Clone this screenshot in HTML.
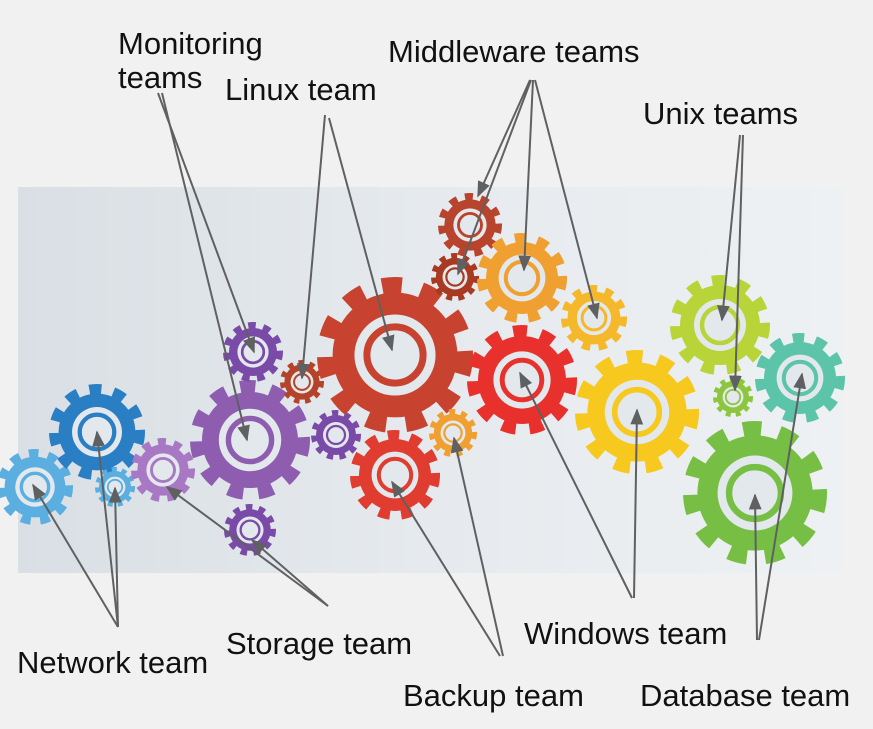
<!DOCTYPE html>
<html><head><meta charset="utf-8"><style>
html,body{margin:0;padding:0;background:#f1f1f1;}
svg{display:block;}
text{font-family:"Liberation Sans",sans-serif;font-size:31px;fill:#111;}
</style></head><body>
<svg width="873" height="729" viewBox="0 0 873 729" xmlns="http://www.w3.org/2000/svg">
<defs>
<linearGradient id="bg" x1="0" x2="1" y1="0" y2="0">
<stop offset="0" stop-color="#d9dfe4"/><stop offset="0.5" stop-color="#e6eaee"/><stop offset="1" stop-color="#eef1f3"/></linearGradient>
<marker id="a" viewBox="0 0 10 10" refX="9" refY="5" markerWidth="16" markerHeight="16" orient="auto" markerUnits="userSpaceOnUse">
<path d="M0,1 L10,5 L0,9 z" fill="#5f6062"/></marker>
<g id="g">
<circle cx="0" cy="0" r="0.8" fill="currentColor"/>
<circle cx="0" cy="0" r="0.89" fill="none" stroke="currentColor" stroke-width="0.22" pathLength="20" stroke-dasharray="1 1"/>
<circle cx="0" cy="0" r="0.52" fill="#e3e8ec"/>
<circle cx="0" cy="0" r="0.36" fill="none" stroke="currentColor" stroke-width="0.09"/>
</g>
</defs>
<rect x="0" y="0" width="873" height="729" fill="#f1f1f1"/>
<rect x="18" y="187" width="824" height="386" fill="url(#bg)"/>
<use href="#g" transform="translate(35,487) scale(38)" color="#5aaee0"/>
<use href="#g" transform="translate(97,432) scale(48)" color="#2a7fc4"/>
<use href="#g" transform="translate(115,487) scale(20)" color="#5aaee0"/>
<use href="#g" transform="translate(163,470) scale(32)" color="#a878c4"/>
<use href="#g" transform="translate(250,440) scale(60)" color="#8e5db0"/>
<use href="#g" transform="translate(253,352) scale(30)" color="#7a4aa8"/>
<use href="#g" transform="translate(250,530) scale(26)" color="#7a4aa8"/>
<use href="#g" transform="translate(336,435) scale(25)" color="#7a4aa8"/>
<use href="#g" transform="translate(302,382) scale(22)" color="#b5432a"/>
<use href="#g" transform="translate(395,355) scale(78)" color="#c8432f"/>
<use href="#g" transform="translate(395,475) scale(45)" color="#e03c30"/>
<use href="#g" transform="translate(453,433) scale(24)" color="#f0a030"/>
<use href="#g" transform="translate(470,225) scale(32)" color="#b8442d"/>
<use href="#g" transform="translate(455,277) scale(24)" color="#a83a22"/>
<use href="#g" transform="translate(522,278) scale(45)" color="#f0a030"/>
<use href="#g" transform="translate(594,318) scale(33)" color="#f5b82a"/>
<use href="#g" transform="translate(522,380) scale(55)" color="#e8312c"/>
<use href="#g" transform="translate(637,412) scale(62)" color="#f7c81e"/>
<use href="#g" transform="translate(720,325) scale(50)" color="#b8d438"/>
<use href="#g" transform="translate(733,397) scale(20)" color="#8cc63f"/>
<use href="#g" transform="translate(800,378) scale(45)" color="#5cc4a8"/>
<use href="#g" transform="translate(755,493) scale(72)" color="#76bf44"/>
<g stroke="#5f6062" stroke-width="2" fill="none" marker-end="url(#a)">
<line x1="158" y1="93" x2="254" y2="352"/>
<line x1="162" y1="93" x2="247" y2="440"/>
<line x1="325" y1="115" x2="302" y2="378"/>
<line x1="329" y1="118" x2="392" y2="350"/>
<line x1="530" y1="80" x2="478" y2="196"/>
<line x1="531" y1="80" x2="458" y2="274"/>
<line x1="533" y1="80" x2="524" y2="270"/>
<line x1="535" y1="80" x2="597" y2="318"/>
<line x1="740" y1="135" x2="722" y2="320"/>
<line x1="743" y1="135" x2="735" y2="390"/>
<line x1="632" y1="598" x2="520" y2="373"/>
<line x1="634" y1="598" x2="637" y2="410"/>
<line x1="757" y1="640" x2="755" y2="495"/>
<line x1="759" y1="640" x2="802" y2="374"/>
<line x1="500" y1="656" x2="392" y2="482"/>
<line x1="503" y1="656" x2="454" y2="438"/>
<line x1="328" y1="606" x2="167" y2="487"/>
<line x1="328" y1="606" x2="252" y2="540"/>
<line x1="118" y1="627" x2="33" y2="485"/>
<line x1="118" y1="627" x2="97" y2="432"/>
<line x1="118" y1="627" x2="115" y2="488"/>
</g>
<text x="118" y="54">Monitoring</text>
<text x="118" y="88">teams</text>
<text x="225" y="100">Linux team</text>
<text x="388" y="62">Middleware teams</text>
<text x="643" y="124">Unix teams</text>
<text x="524" y="644">Windows team</text>
<text x="226" y="654">Storage team</text>
<text x="17" y="673">Network team</text>
<text x="403" y="706">Backup team</text>
<text x="640" y="706">Database team</text>
</svg>
</body></html>
